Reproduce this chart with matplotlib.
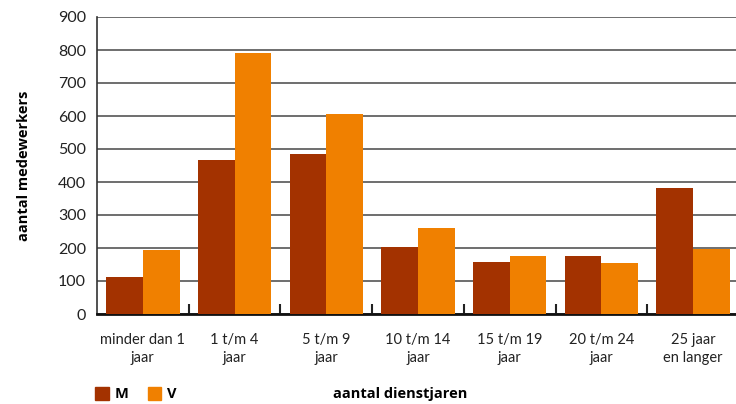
""" Bar chart: aantal medewerkers per dienstjaren, M en V """

import numpy as np
import matplotlib.pyplot as plt
from matplotlib.patches import Patch

categories = ['minder dan 1\njaar', '1 t/m 4\njaar', '5 t/m 9\njaar', '10 t/m 14\njaar',
              '15 t/m 19\njaar', '20 t/m 24\njaar', '25 jaar\nen langer']
mannen = [112, 467, 485, 203, 158, 176, 382]
vrouwen = [194, 790, 606, 261, 176, 155, 197]
y_ticks = [0, 100, 200, 300, 400, 500, 600, 700, 800, 900]

M_COLOR = '#A33200'
V_COLOR = '#F08000'

plt.rcParams['font.family'] = ['Open Sans', 'DejaVu Sans']

fig = plt.figure(figsize=(7.36, 4.04), dpi=100)
ax = fig.add_axes([97 / 736, 90 / 404, 642 / 736, 297 / 404])

x = np.arange(len(categories))
width = 0.4
ax.bar(x - width / 2, mannen, width, color=M_COLOR, zorder=3)
ax.bar(x + width / 2, vrouwen, width, color=V_COLOR, zorder=3)

ax.set_xlim(-0.5, len(categories) - 0.5)
ax.set_ylim(0, 900)
ax.set_yticks(y_ticks)
ax.set_yticklabels([str(t) for t in y_ticks], fontsize=11.5, color='#222222', family='Lato')
ax.yaxis.grid(True, color='#555555', linewidth=1.2, zorder=0)

# category labels at centres, small boundary ticks between groups
ax.set_xticks(x)
ax.set_xticklabels(categories, fontsize=10.5, color='#222222', linespacing=1.35, family='Lato')
ax.tick_params(axis='x', length=0, pad=14)
ax.tick_params(axis='y', length=0, pad=8)
ax.set_xticks(np.arange(0.5, len(categories) - 0.5, 1), minor=True)
ax.tick_params(axis='x', which='minor', direction='in', length=7, width=1.5, color='#222222')

for side in ['top', 'right']:
    ax.spines[side].set_visible(False)
ax.spines['left'].set_color('#333333')
ax.spines['left'].set_linewidth(1.2)
ax.spines['bottom'].set_color('#111111')
ax.spines['bottom'].set_linewidth(2)

ax.set_ylabel('aantal medewerkers', fontsize=10.5, fontweight='bold')
ax.yaxis.set_label_coords(-0.103, 0.5)

fig.text(400 / 736, 1 - 394 / 404, 'aantal dienstjaren', fontsize=10.5,
         fontweight='bold', ha='center', va='center')

handles = [Patch(color=M_COLOR, label='M'), Patch(color=V_COLOR, label='V')]
fig.legend(handles=handles, loc='center left', bbox_to_anchor=(95 / 736, 1 - 394 / 404),
           ncol=2, frameon=False, borderpad=0, borderaxespad=0, handlelength=0.95,
           handleheight=1.0, columnspacing=1.3, handletextpad=0.4,
           prop={'weight': 'bold', 'size': 10.5})

fig.savefig('out.png', dpi=100)
